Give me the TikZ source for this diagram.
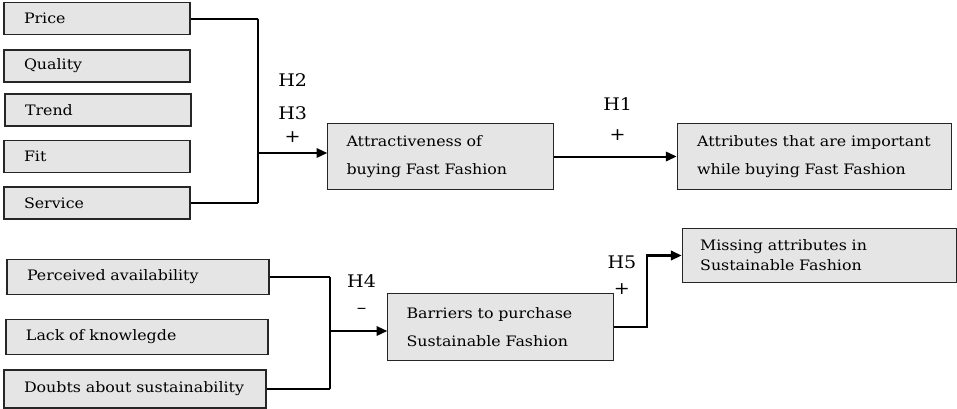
\documentclass[tikz,border=0pt]{standalone}
\usepackage{fontspec}
\setmainfont{DejaVu Serif}[FakeStretch=1.1]
\usetikzlibrary{arrows.meta}

\begin{document}
\begin{tikzpicture}[x=0.75pt,y=-0.75pt,>={Triangle[length=8pt,width=7pt]},
 font=\fontsize{10.8}{21}\selectfont,
 fb/.style={draw=black!85,fill=black!10,line width=0.8pt,align=left,inner xsep=15pt,inner ysep=0pt},
 sb/.style={fb,text width=109.5pt,minimum height=24pt},
 lb/.style={fb,text width=166.5pt,minimum height=26pt},
 bb/.style={fb,inner xsep=14pt,text width=141pt,minimum height=50pt},
 wb/.style={fb,text width=176pt,minimum height=50pt},
 hl/.style={font=\fontsize{13}{17}\selectfont,align=center},
 ln/.style={line width=1.5pt},
 bus/.style={line width=2.2pt}]
\useasboundingbox (0,0) rectangle (957,408);
% drivers of fast fashion
\node[sb] (price) at (97,18.5) {Price};
\node[sb] (quality) at (97,66) {Quality};
\node[sb] (trend) at (98,110) {Trend};
\node[sb] (fit) at (97,156.5) {Fit};
\node[sb] (service) at (97,203) {Service};
\node[bb] (attr) at (440.5,156.5) {Attractiveness of\\buying Fast Fashion};
\node[wb] (imp) at (814.5,156.5) {Attributes that are important\\while buying Fast Fashion};
\coordinate (j1) at (258,153);
\draw[bus] (price.east -| j1) -- (service.east -| j1);
\foreach \p in {price,service} \draw[ln] (\p.east) -- (\p.east -| j1);
\draw[ln,->] (j1) -- node[hl,pos=0.5,above=4pt] {H2\\[8pt]H3\\+} (j1 -| attr.west);
\draw[ln,->] (attr.east) -- node[hl,pos=0.52,above=8pt,font=\fontsize{13}{22.5}\selectfont] {H1\\+} (imp.west);
% barriers to sustainable fashion
\node[lb] (avail) at (138,277) {Perceived availability};
\node[lb] (know) at (137,337) {Lack of knowlegde};
\node[lb,minimum height=28.5pt] (doubts) at (135,389) {Doubts about sustainability};
\node[bb] (barr) at (500.5,327) {Barriers to purchase\\Sustainable Fashion};
\node[wb,inner xsep=13.5pt,text width=179pt,minimum height=40pt,font=\fontsize{10.8}{15}\selectfont] (miss) at (819.5,255.5) {Missing attributes in\\Sustainable Fashion};
\coordinate (j2) at (330,331);
\draw[bus] (avail.east -| j2) -- (doubts.east -| j2);
\foreach \p in {avail,doubts} \draw[ln] (\p.east) -- (\p.east -| j2);
\draw[ln,->] (j2) -- node[hl,pos=0.55,above=9pt,font=\fontsize{13}{19.5}\selectfont] {H4\\--} (j2 -| barr.west);
\draw[line width=1.8pt,->] (barr.east) -- ++(33,0) coordinate (b5) node[hl,pos=0.25,above=20pt,font=\fontsize{13}{20}\selectfont] {H5\\+} |- (miss.west);
\end{tikzpicture}
\end{document}
